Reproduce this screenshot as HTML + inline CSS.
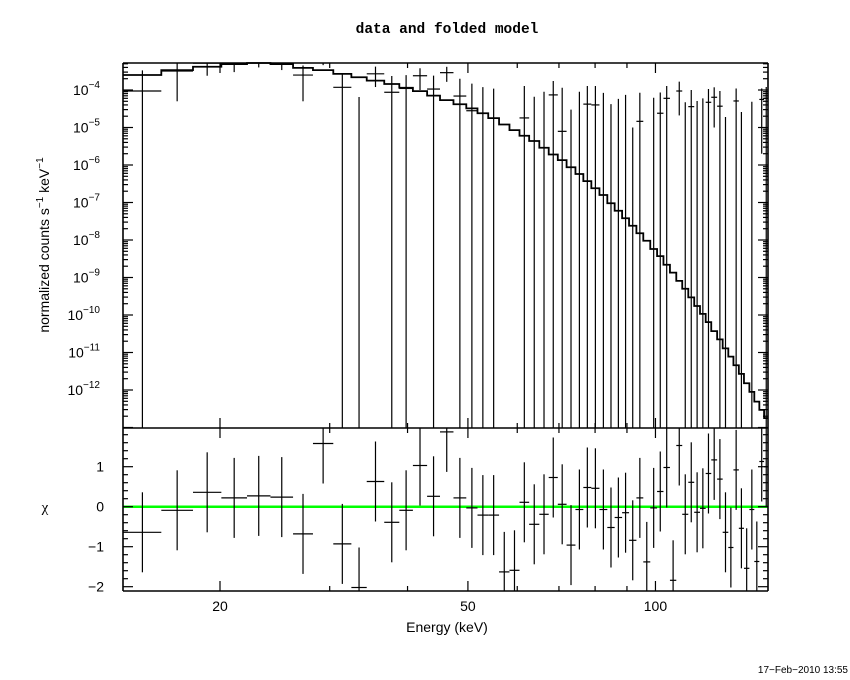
<!DOCTYPE html>
<html><head><meta charset="utf-8"><style>
html,body{margin:0;padding:0;background:#fff;}
svg{display:block;font-family:"Liberation Sans",sans-serif;}
</style></head><body>
<svg id="chart" width="850" height="680" viewBox="0 0 850 680" xmlns="http://www.w3.org/2000/svg">
<rect x="0" y="0" width="850" height="680" fill="#fff"/>
<text x="447" y="33" text-anchor="middle" font-family="Liberation Mono, monospace" font-size="14.5" font-weight="bold">data and folded model</text>
<text transform="translate(49,245) rotate(-90)" text-anchor="middle" font-size="14">normalized counts s<tspan dy="-6" font-size="10">−1</tspan><tspan dy="6"> keV</tspan><tspan dy="-6" font-size="10">−1</tspan></text>
<text x="45" y="512" text-anchor="middle" font-size="15" font-family="Liberation Serif, serif">χ</text>
<text x="447" y="632" text-anchor="middle" font-size="14">Energy (keV)</text>
<text x="848" y="673" text-anchor="end" font-size="10">17−Feb−2010 13:55</text>
<g id="g"></g>
</svg>
<script>
const edges=[14.0,16.1,18.1,20.1,22.1,24.1,26.2,28.2,30.4,32.5,34.4,36.7,38.8,40.8,43.0,45.1,47.4,49.7,51.8,53.9,56.1,58.3,60.5,62.7,65.1,67.4,69.7,72.0,74.4,76.6,78.9,81.3,83.7,86.0,88.4,90.7,93.2,95.6,98.1,100.6,103.0,105.5,108.0,110.4,112.9,115.4,117.9,120.4,122.9,125.6,128.2,130.9,133.4,136.1,138.7,141.5,144.1,146.8,149.4,151.8];
const modelLog=[-3.6,-3.47,-3.38,-3.31,-3.25,-3.31,-3.41,-3.47,-3.57,-3.66,-3.75,-3.84,-3.94,-4.03,-4.15,-4.27,-4.38,-4.49,-4.62,-4.75,-4.92,-5.07,-5.22,-5.36,-5.54,-5.72,-5.87,-6.06,-6.24,-6.43,-6.62,-6.80,-7.02,-7.22,-7.42,-7.62,-7.82,-8.02,-8.24,-8.43,-8.66,-8.87,-9.09,-9.30,-9.53,-9.76,-9.97,-10.19,-10.43,-10.65,-10.89,-11.11,-11.34,-11.57,-11.82,-12.05,-12.31,-12.53,-12.75];
const rate=[9.4e-5,3.2e-4,5.2e-4,5.3e-4,6.1e-4,5.3e-4,2.5e-4,6.6e-4,1.18e-4,-8.5e-5,2.7e-4,8.7e-5,1.1e-4,2.4e-4,1.06e-4,2.9e-4,6.9e-5,2.8e-5,-1e-6,-6e-6,-1.6e-4,-1.5e-4,1.8e-5,-4.4e-5,-1.7e-5,7.4e-5,7.9e-6,-9.6e-5,-6e-6,4.2e-5,4e-5,-6e-6,-4.4e-5,-2.2e-5,-1.3e-5,-7e-5,1.46e-5,-1.1e-4,-2e-6,2.4e-5,6e-5,-1.5e-4,9.4e-5,-1.1e-5,3.6e-5,-9e-6,-2e-6,4.7e-5,6.4e-5,3.7e-5,-3.5e-5,-8e-5,5.1e-5,-2.9e-5,-9e-5,-3.5e-6,-8e-5,5.6e-5,6e-5];
const rateErr=[2.4e-4,2.7e-4,2.8e-4,2.3e-4,2.1e-4,1.9e-4,2e-4,2e-4,1.6e-4,1.5e-4,1.5e-4,1.5e-4,1.4e-4,1.4e-4,1.35e-4,1.25e-4,1.3e-4,1.2e-4,1.2e-4,1.15e-4,1e-4,1e-4,1.1e-4,1.1e-4,1.07e-4,1e-4,1.07e-4,1.26e-4,9.6e-5,8.6e-5,8.8e-5,9e-5,8.6e-5,8e-5,8.7e-5,8e-5,7e-5,8e-5,6.4e-5,6.2e-5,6.8e-5,8e-5,7.3e-5,5.8e-5,6.4e-5,6e-5,6.2e-5,5.9e-5,5.4e-5,5.7e-5,5.4e-5,6e-5,5.9e-5,5.5e-5,6e-5,5.2e-5,6e-5,5.4e-5,6e-5];
const resid=[-0.64,-0.09,0.36,0.22,0.27,0.24,-0.68,1.58,-0.93,-2.02,0.63,-0.39,-0.09,1.03,0.26,1.87,0.22,-0.03,-0.21,-0.21,-1.63,-1.59,0.11,-0.44,-0.19,0.73,0.06,-0.96,-0.07,0.48,0.46,-0.07,-0.52,-0.27,-0.15,-0.84,0.22,-1.38,-0.03,0.38,0.98,-1.84,1.53,-0.19,0.61,-0.14,-0.04,0.83,1.17,0.69,-0.64,-1.02,0.92,-0.54,-1.54,-0.07,-1.37,1.13,1.0];
const xMajor=[20,50,100];
const xMinor=[30,40,60,70,80,90];
const yMajorExp=[-4,-5,-6,-7,-8,-9,-10,-11,-12];
const rMajor=[-2,-1,0,1];

const L=123,R=768,T=63,M=428,B=591;
const xs=e=>220+623*Math.log10(e/20);
const ys=v=>90-(Math.log10(v)+4)*37.5;
const rs=r=>506.7-r*40;
const g=document.getElementById('g');
const NS='http://www.w3.org/2000/svg';
function line(x1,y1,x2,y2,w,c){const l=document.createElementNS(NS,'line');l.setAttribute('x1',x1);l.setAttribute('y1',y1);l.setAttribute('x2',x2);l.setAttribute('y2',y2);l.setAttribute('stroke',c||'#000');l.setAttribute('stroke-width',w||1);g.appendChild(l);return l;}
const clampT=y=>Math.max(T,Math.min(M,y));
const clampB=y=>Math.max(M,Math.min(B,y));

let d='';
for(let i=0;i<modelLog.length;i++){const y=clampT(ys(Math.pow(10,modelLog[i])));d+=(i?'L':'M')+xs(edges[i])+','+y+'L'+xs(edges[i+1])+','+y;}
const p=document.createElementNS(NS,'path');p.setAttribute('d',d);p.setAttribute('fill','none');p.setAttribute('stroke','#000');p.setAttribute('stroke-width','1.8');


g.appendChild(p);

for(let i=0;i<rate.length;i++){
  const xc=xs(Math.sqrt(edges[i]*edges[i+1]));
  const hi=rate[i]+rateErr[i], lo=rate[i]-rateErr[i];
  if(hi>0){
    const yTop=clampT(ys(hi)), yBot=lo>0?clampT(ys(lo)):M;
    const v=line(xc,yTop,xc,yBot,1.2);
    
    
  }
  if(rate[i]>0){const y=ys(rate[i]);if(y>=T&&y<=M){const h=line(xs(edges[i]),y,xs(edges[i+1]),y,1.2);
    
    }}
}
const gl=line(L,rs(0),R,rs(0),2.5,'#00ff00');


for(let i=0;i<resid.length;i++){
  const xc=xs(Math.sqrt(edges[i]*edges[i+1]));
  const v=line(xc,clampB(rs(resid[i]+1)),xc,clampB(rs(resid[i]-1)),1.2);
  
  
  const y=rs(resid[i]);
  if(y>=M&&y<=B){const h=line(xs(edges[i]),y,xs(edges[i+1]),y,1.2);
    
    }
}
[[L,T,R,T],[L,M,R,M],[L,B,R,B],[L,T,L,B],[R,T,R,B]].forEach(a=>line(a[0],a[1],a[2],a[3],1.6));
xMajor.concat(xMinor).forEach(e=>{
  const x=xs(e); if(x<L||x>R) return;
  const len=xMajor.includes(e)?10:5;
  [T,M].forEach(y0=>line(x,y0,x,y0+len,1.2));
  [M,B].forEach(y0=>line(x,y0,x,y0-len,1.2));
});
xMajor.forEach(e=>{const t=document.createElementNS(NS,'text');t.setAttribute('x',xs(e));t.setAttribute('y',611);t.setAttribute('text-anchor','middle');t.setAttribute('font-size','14');t.textContent=e;
  
  
  g.appendChild(t);});
for(let ex=-13;ex<=-4;ex++){for(let k=1;k<10;k++){const y=ys(k*Math.pow(10,ex));if(y<T||y>M)continue;const len=k==1?10:5;line(L,y,L+len,y,1.2);line(R,y,R-len,y,1.2);}}
yMajorExp.forEach(ex=>{const t=document.createElementNS(NS,'text');t.setAttribute('x',100);t.setAttribute('y',ys(Math.pow(10,ex))+5);t.setAttribute('text-anchor','end');t.setAttribute('font-size','14');
  t.innerHTML='10<tspan dy="-7" font-size="10">'+ex.toString().replace('-','−')+'</tspan>';
  
  
  g.appendChild(t);});
for(let r=-2;r<=1.9;r+=0.2){const rr=Math.round(r*10)/10;const y=rs(rr);if(y<M||y>B)continue;const maj=Math.abs(rr-Math.round(rr))<1e-6;const len=maj?10:5;line(L,y,L+len,y,1.2);line(R,y,R-len,y,1.2);}
rMajor.forEach(r=>{const t=document.createElementNS(NS,'text');t.setAttribute('x',104);t.setAttribute('y',rs(r)+5);t.setAttribute('text-anchor','end');t.setAttribute('font-size','14');t.textContent=r<0?'−'+(-r):r;
  
  
  g.appendChild(t);});
</script>
</body></html>
